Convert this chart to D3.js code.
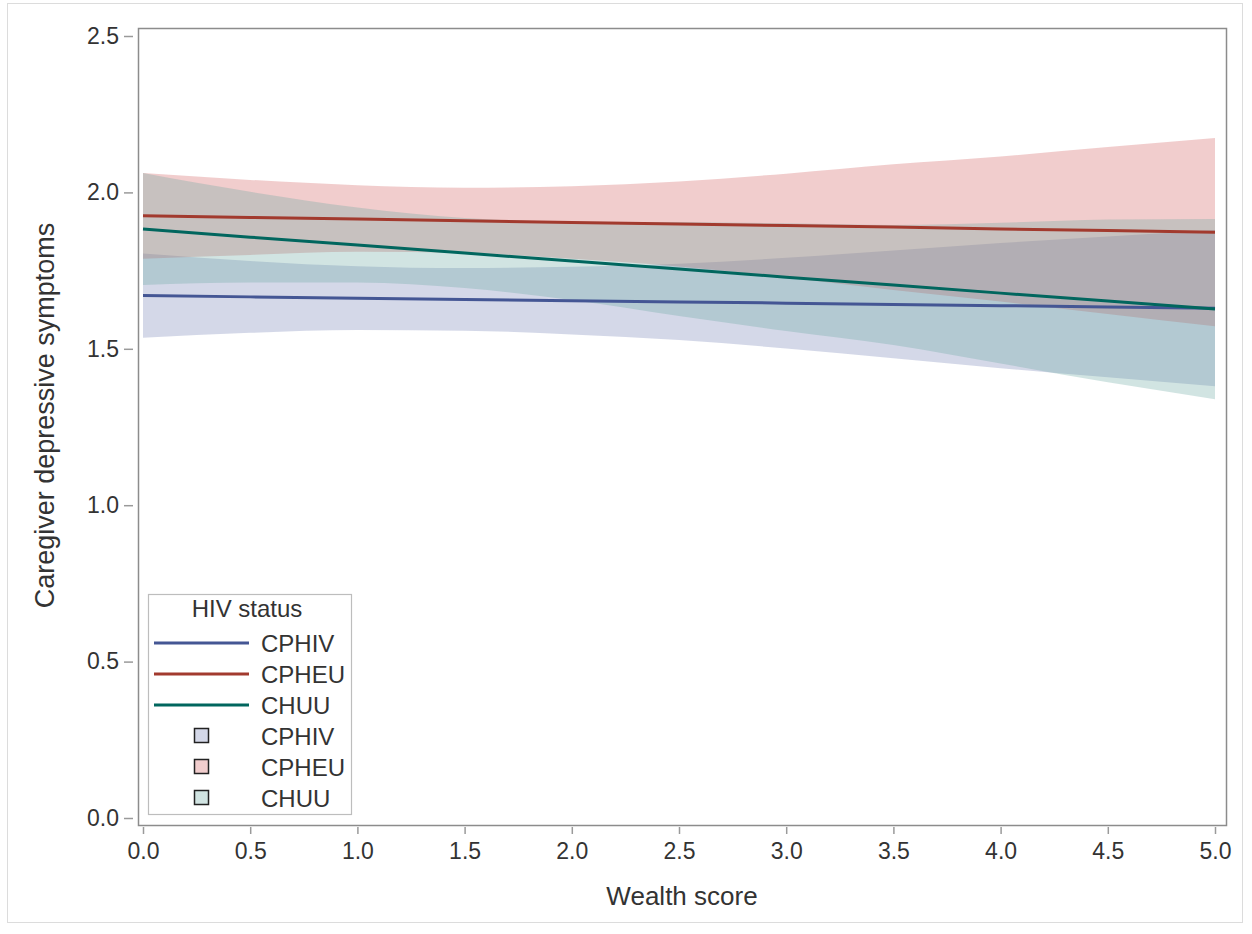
<!DOCTYPE html>
<html>
<head>
<meta charset="utf-8">
<script src="https://cdn.jsdelivr.net/npm/d3@7"></script>
<style>
  html, body { margin: 0; padding: 0; background: #fff; }
  svg text { font-family: "Liberation Sans", Arial, sans-serif; fill: #333; }
</style>
</head>
<body>
<svg id="chart" width="1252" height="934"></svg>
<script>
// Wealth score grid at which fitted values and 95% limits are drawn
const wealth = [0, 0.5, 1, 1.5, 2, 2.5, 3, 3.5, 4, 4.5, 5];

// Fitted caregiver depressive symptom scores by group
const cphivFit = [1.670, 1.666, 1.662, 1.658, 1.654, 1.650, 1.646, 1.642, 1.638, 1.634, 1.630];
const cpheuFit = [1.925, 1.920, 1.915, 1.909, 1.904, 1.899, 1.894, 1.889, 1.883, 1.878, 1.873];
const chuuFit  = [1.883, 1.857, 1.832, 1.806, 1.781, 1.755, 1.729, 1.704, 1.678, 1.653, 1.627];

// Confidence limits
const cphivUpper = [1.805, 1.781, 1.764, 1.758, 1.762, 1.772, 1.791, 1.814, 1.838, 1.859, 1.880];
const cphivLower = [1.535, 1.551, 1.560, 1.558, 1.546, 1.528, 1.501, 1.470, 1.438, 1.409, 1.380];
const cpheuUpper = [2.062, 2.040, 2.023, 2.015, 2.020, 2.035, 2.060, 2.090, 2.115, 2.145, 2.174];
const cpheuLower = [1.788, 1.800, 1.810, 1.806, 1.788, 1.763, 1.728, 1.688, 1.651, 1.611, 1.572];
const chuuUpper  = [2.062, 2.002, 1.952, 1.918, 1.906, 1.905, 1.901, 1.896, 1.903, 1.913, 1.915];
const chuuLower  = [1.704, 1.712, 1.712, 1.694, 1.656, 1.605, 1.557, 1.512, 1.453, 1.393, 1.339];

const groups = ["CPHIV", "CPHEU", "CHUU"];
const lineColors = ["#445694", "#A23A2E", "#01665E"];
const fillColors = ["#6F7EB3", "#D05B5B", "#66A5A0"];

const xTicks = [0, 0.5, 1, 1.5, 2, 2.5, 3, 3.5, 4, 4.5, 5];
const yTicks = [0, 0.5, 1, 1.5, 2, 2.5];

const series = [
  { fit: cphivFit, lo: cphivLower, hi: cphivUpper },
  { fit: cpheuFit, lo: cpheuLower, hi: cpheuUpper },
  { fit: chuuFit,  lo: chuuLower,  hi: chuuUpper }
];

const svg = d3.select("#chart");

// Outer image border
svg.append("rect")
  .attr("x", 7.5).attr("y", 3.5).attr("width", 1235).attr("height", 919)
  .attr("fill", "none").attr("stroke", "#dcdcdc").attr("stroke-width", 1);

const frame = { left: 138, right: 1226, top: 28, bottom: 825 };

const x = d3.scaleLinear().domain([0, 5]).range([143, 1215]);
const y = d3.scaleLinear().domain([0, 2.5]).range([818, 36]);

// Confidence bands
const area = d3.area()
  .x((d, i) => x(wealth[i]))
  .y0(d => y(d[0]))
  .y1(d => y(d[1]))
  .curve(d3.curveMonotoneX);

series.forEach((s, k) => {
  const pts = s.lo.map((v, i) => [v, s.hi[i]]);
  svg.append("path")
    .datum(pts)
    .attr("d", area)
    .attr("fill", fillColors[k])
    .attr("fill-opacity", 0.3);
});

// Fitted lines
const line = d3.line()
  .x((d, i) => x(wealth[i]))
  .y(d => y(d));

series.forEach((s, k) => {
  svg.append("path")
    .datum(s.fit)
    .attr("d", line)
    .attr("fill", "none")
    .attr("stroke", lineColors[k])
    .attr("stroke-width", 3);
});

// Plot frame
svg.append("rect")
  .attr("x", frame.left + 0.5).attr("y", frame.top + 0.5)
  .attr("width", frame.right - frame.left).attr("height", frame.bottom - frame.top)
  .attr("fill", "none").attr("stroke", "#8c8c8c").attr("stroke-width", 1.5);

// Axes
const xAxis = d3.axisBottom(x).tickValues(xTicks).tickFormat(d3.format(".1f"))
  .tickSize(7).tickPadding(9);
const gx = svg.append("g").attr("transform", `translate(0,${frame.bottom + 2})`).call(xAxis);
gx.select(".domain").remove();
gx.selectAll(".tick line").attr("stroke", "#9a9a9a").attr("stroke-width", 1.5);
gx.selectAll(".tick text").attr("font-size", 23).attr("fill", "#333")
  .attr("font-family", "Liberation Sans, Arial, sans-serif");

const yAxis = d3.axisLeft(y).tickValues(yTicks).tickFormat(d3.format(".1f"))
  .tickSize(9).tickPadding(5);
const gy = svg.append("g").attr("transform", `translate(${frame.left - 5},0)`).call(yAxis);
gy.select(".domain").remove();
gy.selectAll(".tick line").attr("stroke", "#9a9a9a").attr("stroke-width", 1.5);
gy.selectAll(".tick text").attr("font-size", 23).attr("fill", "#333")
  .attr("font-family", "Liberation Sans, Arial, sans-serif");

// Axis titles
svg.append("text")
  .attr("x", (frame.left + frame.right) / 2).attr("y", 905)
  .attr("text-anchor", "middle").attr("font-size", 26)
  .text("Wealth score");

svg.append("text")
  .attr("transform", `translate(54,${(frame.top + frame.bottom) / 2 - 11}) rotate(-90)`)
  .attr("text-anchor", "middle").attr("font-size", 27)
  .text("Caregiver depressive symptoms");

// Legend
const lg = svg.append("g");
lg.append("rect")
  .attr("x", 148.5).attr("y", 594.5).attr("width", 203).attr("height", 220)
  .attr("fill", "#fff").attr("stroke", "#bdbdbd").attr("stroke-width", 1.2);
lg.append("text")
  .attr("x", 247).attr("y", 617).attr("text-anchor", "middle").attr("font-size", 24)
  .text("HIV status");

const rowY = [643, 674, 705, 736, 767, 798];
groups.forEach((g, k) => {
  lg.append("line")
    .attr("x1", 154).attr("x2", 249).attr("y1", rowY[k]).attr("y2", rowY[k])
    .attr("stroke", lineColors[k]).attr("stroke-width", 3);
  lg.append("text")
    .attr("x", 261).attr("y", rowY[k] + 8.5).attr("font-size", 24).text(g);
});
groups.forEach((g, k) => {
  const yy = rowY[k + 3];
  lg.append("rect")
    .attr("x", 194.5).attr("y", yy - 7.5).attr("width", 14).attr("height", 14)
    .attr("fill", fillColors[k]).attr("fill-opacity", 0.3)
    .attr("stroke", "#222").attr("stroke-width", 1.5);
  lg.append("text")
    .attr("x", 261).attr("y", yy + 8.5).attr("font-size", 24).text(g);
});
</script>
</body>
</html>
